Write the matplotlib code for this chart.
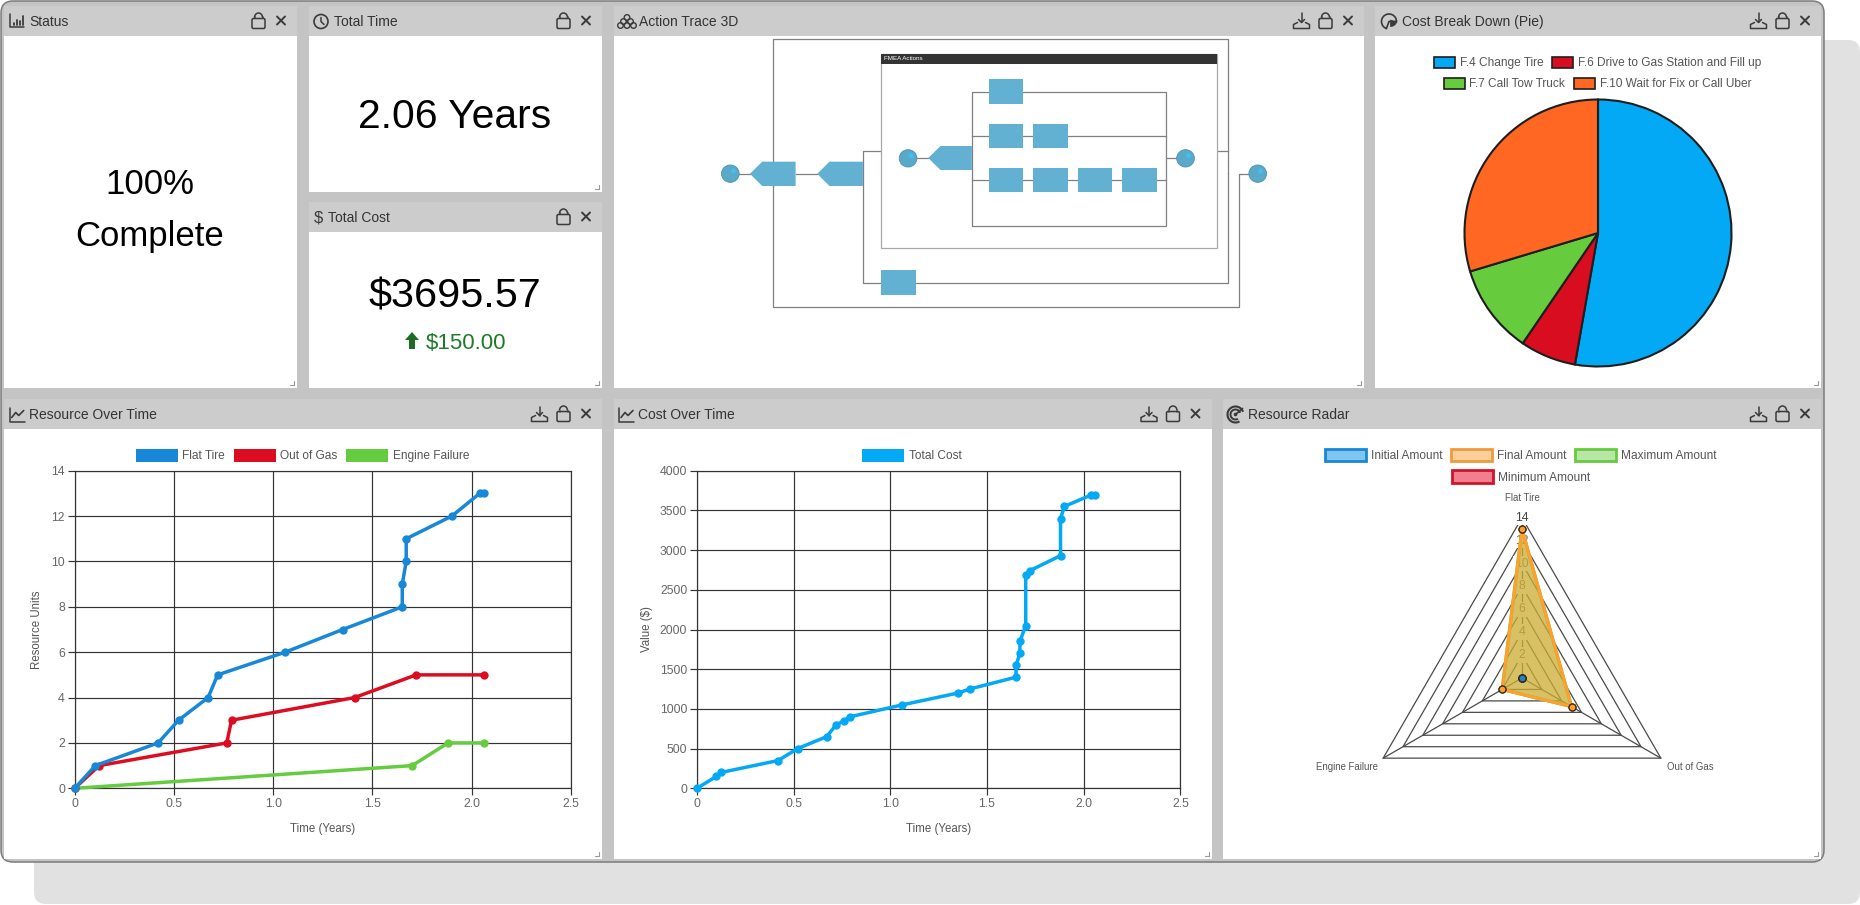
import matplotlib
matplotlib.use('Agg')
import matplotlib.pyplot as plt
import numpy as np
from matplotlib.patches import Arc, Circle, Ellipse, FancyBboxPatch, Patch, Polygon, Rectangle, Wedge

plt.rcParams['font.family'] = ['Liberation Sans', 'DejaVu Sans']

# Datos: recursos en el tiempo
flat_x = [0, 0.104, 0.42, 0.523, 0.672, 0.72, 1.06, 1.35, 1.65, 1.65, 1.67, 1.67, 1.90, 2.04, 2.06]
flat_y = [0, 1, 2, 3, 4, 5, 6, 7, 8, 9, 10, 11, 12, 13, 13]
gas_x = [0, 0.123, 0.766, 0.79, 1.41, 1.72, 2.06]
gas_y = [0, 1, 2, 3, 4, 5, 5]
engine_x = [0, 1.70, 1.88, 2.06]
engine_y = [0, 1, 2, 2]

# Datos: costo en el tiempo
cost_x = [0, 0.10, 0.125, 0.42, 0.52, 0.67, 0.72, 0.76, 0.79, 1.06, 1.35, 1.41, 1.65, 1.65,
          1.67, 1.67, 1.70, 1.70, 1.72, 1.88, 1.88, 1.90, 2.04, 2.06]
cost_y = [0, 150, 200, 350, 500, 650, 800, 850, 900, 1050, 1200, 1250, 1400, 1550,
          1700, 1850, 2050, 2685, 2740, 2930, 3395, 3550, 3695.57, 3695.57]

# Datos: pastel
pie_labels = ['F.4 Change Tire', 'F.6 Drive to Gas Station and Fill up', 'F.7 Call Tow Truck', 'F.10 Wait for Fix or Call Uber']
pie_values = [1950, 250, 400, 1095.57]
pie_colors = ['#03A9F4', '#D80D1F', '#66CC3D', '#FF6722']

# Datos: radar
radar_axes = ['Flat Tire', 'Out of Gas', 'Engine Failure']
initial_amount = [0, 0, 0]
final_amount = [13, 5, 2]
maximum_amount = [13, 5, 2]
minimum_amount = [0, 0, 0]
radar_ticks = [2, 4, 6, 8, 10, 12, 14]

x_ticks = [0, 0.5, 1.0, 1.5, 2.0, 2.5]
x_tick_labels = ['0', '0.5', '1.0', '1.5', '2.0', '2.5']
resource_ticks = [0, 2, 4, 6, 8, 10, 12, 14]
cost_ticks = [0, 500, 1000, 1500, 2000, 2500, 3000, 3500, 4000]

W, H = 1860, 905
fig = plt.figure(figsize=(W / 100, H / 100), dpi=100, facecolor='white')


def axes_px(x0, y0, x1, y1, **kw):
    return fig.add_axes([x0 / W, 1 - y1 / H, (x1 - x0) / W, (y1 - y0) / H], **kw)


# Fondo en pixeles: sombra, ventana y paneles
bg = axes_px(0, 0, W, H)
bg.set_xlim(0, W)
bg.set_ylim(H, 0)
bg.axis('off')
bg.add_patch(FancyBboxPatch((34, 40), 1826, 864, boxstyle='round,pad=0,rounding_size=12',
                            fc='#E1E1E1', ec='none'))
bg.add_patch(FancyBboxPatch((1, 1), 1823, 861, boxstyle='round,pad=0,rounding_size=12',
                            fc='#C4C4C4', ec='#7C7C7C', lw=1.1))

INK = '#3A3A3A'


def stroke(xs, ys, lw=1.1, color=INK):
    bg.plot(xs, ys, color=color, lw=lw, solid_capstyle='round', solid_joinstyle='round')


def draw_lock(x, y):
    bg.add_patch(FancyBboxPatch((x - 6.5, y - 3), 13, 10, boxstyle='round,pad=0,rounding_size=1.5', fc='none', ec=INK, lw=1.1))
    bg.add_patch(Arc((x, y - 4), 8, 9, theta1=180, theta2=360, ec=INK, lw=1.1))
    stroke([x - 4, x - 4], [y - 4, y - 3])
    stroke([x + 4, x + 4], [y - 4, y - 3])


def draw_cross(x, y):
    stroke([x - 4, x + 4], [y - 4, y + 4], lw=1.4)
    stroke([x - 4, x + 4], [y + 4, y - 4], lw=1.4)


def draw_download(x, y):
    stroke([x, x], [y - 8, y + 1])
    stroke([x - 3, x, x + 3], [y - 2, y + 1, y - 2])
    stroke([x - 4, x - 8, x - 8, x + 8, x + 8, x + 4], [y + 1, y + 3, y + 7, y + 7, y + 3, y + 1])


def draw_left_icon(kind, x, y):
    if kind == 'bars':
        stroke([x - 7, x - 7, x + 7], [y - 7, y + 6, y + 6])
        for dx, top in [(-3, 2), (0, -1), (3, 0), (6, -5)]:
            stroke([x + dx, x + dx], [y + 4, y + top], lw=1.3)
    elif kind == 'clock':
        bg.add_patch(Circle((x, y), 7, fc='none', ec=INK, lw=1.2))
        stroke([x, x, x + 3], [y - 4, y, y + 3])
    elif kind == 'dollar':
        bg.text(x, y, '$', fontsize=12, ha='center', va='center', color=INK)
    elif kind == 'nodes':
        for dx, dy in [(0, -4), (-3.5, 0), (3.5, 0), (-6.5, 4), (0, 4), (6.5, 4)]:
            bg.add_patch(Circle((x + dx, y + dy), 2.8, fc='none', ec=INK, lw=1))
    elif kind == 'pie':
        bg.add_patch(Wedge((x, y), 7.5, -250, 0, fc='none', ec=INK, lw=1.2))
        bg.add_patch(Wedge((x + 1.5, y - 1.5), 6.5, 20, 90, fc=INK, ec=INK, lw=0.5))
    elif kind == 'line':
        stroke([x - 7, x - 7, x + 8], [y - 7, y + 7, y + 7])
        stroke([x - 5, x - 1, x + 2, x + 7], [y + 3, y - 2, y + 1, y - 4], lw=1.2)
    elif kind == 'radar':
        for r, lw in [(8, 1.5), (5, 1.4)]:
            bg.add_patch(Arc((x, y), 2 * r, 2 * r, theta1=-300, theta2=-20, ec=INK, lw=lw))
        bg.add_patch(Circle((x, y), 1.8, fc=INK, ec='none'))
        stroke([x, x + 7], [y, y - 6], lw=1.3)


def panel(x0, y0, x1, y1, head_y, title, icon, icon_x, text_x, download=True):
    # encabezado, contenido blanco, iconos y agarre de esquina
    bg.add_patch(Rectangle((x0, y0), x1 - x0, head_y - y0, fc='#CCCCCC', ec='none'))
    bg.add_patch(Rectangle((x0, head_y), x1 - x0, y1 - head_y, fc='white', ec='none'))
    cy = (y0 + head_y) / 2 + 0.5
    bg.text(text_x, cy + 0.8, title, fontsize=10, color='#333333', ha='left', va='center')
    draw_left_icon(icon, icon_x, cy)
    draw_cross(x1 - 16, cy - 1)
    draw_lock(x1 - 38.5, cy)
    if download:
        draw_download(x1 - 62.5, cy)
    stroke([x1 - 3, x1 - 3, x1 - 7], [y1 - 7, y1 - 3, y1 - 3], lw=0.8, color='#999999')


panel(4, 6, 297, 388, 36, 'Status', 'bars', 16.5, 29, download=False)
panel(309, 6, 602, 192, 36, 'Total Time', 'clock', 321, 334, download=False)
panel(309, 202, 602, 388, 232, 'Total Cost', 'dollar', 318, 328, download=False)
panel(614, 6, 1364, 388, 36, 'Action Trace 3D', 'nodes', 627, 638.5)
panel(1375, 6, 1821, 388, 36, 'Cost Break Down (Pie)', 'pie', 1389, 1401.7)
panel(4, 399, 602, 859, 429, 'Resource Over Time', 'line', 16.7, 29)
panel(614, 399, 1211.5, 859, 429, 'Cost Over Time', 'line', 626, 638.4)
panel(1223, 399, 1821, 859, 429, 'Resource Radar', 'radar', 1235.5, 1247.8)

# Textos grandes
bg.text(150, 185, '100%', fontsize=25, ha='center', va='center', color='black')
bg.text(150, 236, 'Complete', fontsize=25, ha='center', va='center', color='black')
bg.text(455, 117, '2.06 Years', fontsize=29.4, ha='center', va='center', color='black')
bg.text(455, 296.5, '$3695.57', fontsize=29.8, ha='center', va='center', color='black')
bg.text(465.6, 343, '$150.00', fontsize=16, ha='center', va='center', color='#1E7B2A')
bg.add_patch(Polygon([(412, 332), (419, 340), (415, 340), (415, 349), (409, 349), (409, 340), (405, 340)],
                     fc='#1E6B26', ec='none'))

# Diagrama de la traza de acciones, en una cuadricula propia
dg = axes_px(610, 0, 1380, 400)
dg.patch.set_alpha(0)
dg.set_xlim(0, 1568)
dg.set_ylim(1200, 0)
dg.axis('off')
wires = [
    ([331, 331, 1258, 1258], [558, 118, 118, 520]),
    ([331, 331, 1280, 1280, 1302], [558, 921, 921, 521, 521]),
    ([1235, 1258], [452, 452]),
    ([551, 515, 515, 551], [452, 452, 848, 848]),
    ([623, 1258, 1258], [848, 848, 520]),
    ([262, 285], [521, 521]),
    ([378, 422], [521, 521]),
]
inner_wires = [
    ([625, 648], [475, 475]),
    ([771, 737, 737, 1133, 1133, 841], [275, 275, 677, 677, 275, 275]),
    ([737, 1133], [408, 408]),
    ([737, 1133], [541, 541]),
    ([1133, 1155], [475, 475]),
]
for xs, ys in wires:
    dg.plot(xs, ys, color='#808080', lw=0.9, zorder=1)
dg.add_patch(Rectangle((551, 161), 685, 584, fc='white', ec='#A8A8A8', lw=0.9, zorder=1.5))
for xs, ys in inner_wires:
    dg.plot(xs, ys, color='#808080', lw=0.9, zorder=2)
dg.add_patch(Rectangle((551, 161), 685, 32, fc='#333333', ec='none', zorder=2))
dg.text(557, 177, 'FMEA Actions', fontsize=4.5, color='white', va='center', zorder=3)
BOX = '#62B1D2'
for x0, y0, x1, y1 in [(771, 238, 841, 311), (771, 372, 841, 444), (862, 372, 932, 444), (771, 505, 841, 577),
                       (862, 505, 932, 577), (953, 505, 1022, 577), (1043, 505, 1113, 577), (551, 809, 623, 884)]:
    dg.add_patch(Rectangle((x0, y0), x1 - x0, y1 - y0, fc=BOX, ec='none', zorder=3))
for tip, mid, back, top, bot in [(285, 310, 378, 485, 558), (422, 447, 515, 485, 558), (648, 673, 737, 438, 510)]:
    dg.add_patch(Polygon([(tip, (top + bot) / 2), (mid, top), (back, top), (back, bot), (mid, bot)], fc=BOX, ec='none', zorder=3))
for cx, cy in [(245, 521), (607, 475), (1172, 475), (1319, 521)]:
    dg.add_patch(Ellipse((cx, cy), 36, 52, fc='#5AA9C9', ec='#4A93B0', lw=0.6, zorder=3))
    dg.add_patch(Ellipse((cx + 6, cy - 8), 10, 15, fc='#3FC0F5', ec='none', zorder=4))


def legend_row(ax, handles, center, swatch_px, height_px, gap_px):
    # una fila de leyenda centrada, como las de la figura original
    size = 8.6
    em = size * 100 / 72
    leg = ax.legend(handles=handles, loc='center', bbox_to_anchor=(center[0] / W, 1 - (center[1] + 1) / H),
                    bbox_transform=fig.transFigure, ncol=len(handles), frameon=False, fontsize=size,
                    handlelength=swatch_px / em, handleheight=height_px / em, handletextpad=0.4,
                    columnspacing=gap_px / em, borderpad=0, borderaxespad=0, labelcolor='#555555')
    ax.add_artist(leg)
    ax.legend_ = None


def line_axes(x0, x1, yticks, ylim, ylabel, ylabel_x):
    ax = axes_px(x0, 470.7, x1, 788.3)
    ax.patch.set_alpha(0)
    ax.set_xlim(0, 2.5)
    ax.set_ylim(*ylim)
    ax.set_xticks(x_ticks, x_tick_labels)
    ax.set_yticks(yticks)
    ax.grid(True, color='#333333', lw=0.85)
    ax.set_axisbelow(True)
    ax.tick_params(length=5, width=0.85, color='#333333', labelcolor='#666666', labelsize=8.8, pad=2)
    for s in ax.spines.values():
        s.set_color('#333333')
        s.set_linewidth(0.85)
    ax.set_xlabel('Time (Years)', fontsize=8.3, color='#555555', va='center')
    ax.xaxis.set_label_coords(0.5, -0.127)
    ax.set_ylabel(ylabel, fontsize=8.3, color='#555555', va='center')
    ax.yaxis.set_label_coords(ylabel_x, 0.5)
    return ax


# Recursos en el tiempo
ax1 = line_axes(74.7, 571, resource_ticks, (0, 14), 'Resource Units', -0.076)
for xs, ys, col in [(engine_x, engine_y, '#66CC3F'), (gas_x, gas_y, '#DC0D20'), (flat_x, flat_y, '#1787D8')]:
    ax1.plot(xs, ys, color=col, lw=2.5, marker='o', ms=5, clip_on=False, zorder=3)
legend_row(ax1, [Patch(fc='#1787D8', label='Flat Tire'), Patch(fc='#DC0D20', label='Out of Gas'),
                 Patch(fc='#66CC3F', label='Engine Failure')], (302.5, 454.7), 42, 15, 8.5)

# Costo en el tiempo
ax2 = line_axes(697, 1180.4, cost_ticks, (0, 4000), 'Value ($)', -0.104)
ax2.plot(cost_x, cost_y, color='#03A9F4', lw=2.5, marker='o', ms=5, clip_on=False, zorder=3)
legend_row(ax2, [Patch(fc='#03A9F4', label='Total Cost')], (912, 454.7), 42, 15, 8.5)

# Pastel
ax3 = axes_px(1598 - 133.5, 233 - 133.5, 1598 + 133.5, 233 + 133.5)
ax3.pie(pie_values, colors=pie_colors, startangle=90, counterclock=False, radius=1,
        wedgeprops={'edgecolor': '#1E1E1E', 'linewidth': 1.5})
ax3.set_xlim(-1, 1)
ax3.set_ylim(-1, 1)
for w in ax3.patches:
    w.set_clip_on(False)
pie_handles = [Patch(fc=c, ec='#1E1E1E', lw=1.2, label=l) for c, l in zip(pie_colors, pie_labels)]
legend_row(ax3, pie_handles[:2], (1597.5, 62), 21, 13, 9)
legend_row(ax3, pie_handles[2:], (1597.5, 83), 21, 13, 9)

# Radar
R = 160.3
ax4 = axes_px(1522 - R, 678 - R, 1522 + R, 678 + R, projection='polar')
ax4.patch.set_alpha(0)
ax4.set_theta_zero_location('N')
ax4.set_theta_direction(-1)
theta = np.deg2rad([0, 120, 240])
closed = np.append(theta, theta[0])
for t in radar_ticks:
    ax4.plot(closed, [t] * 4, color='#4A4A4A', lw=0.9, clip_on=False, zorder=1)
for a in theta:
    ax4.plot([a, a], [0, 14], color='#4A4A4A', lw=0.9, clip_on=False, zorder=1)
for t in radar_ticks:
    ax4.text(0, t, str(t), fontsize=8.8, color='#444444' if t == 14 else '#666666', ha='center', va='center', zorder=2,
             bbox={'fc': 'white', 'ec': 'none', 'pad': 1.2}, clip_on=False)
series = [(minimum_amount, '#D0142C'), (maximum_amount, '#66CC3F'), (final_amount, '#FF9F2E'), (initial_amount, '#1787D8')]
for values, col in series:
    vals = list(values) + [values[0]]
    ax4.fill(closed, vals, color=col, alpha=0.5, lw=0, zorder=3)
    ax4.plot(closed, vals, color=col, lw=2.3, clip_on=False, zorder=4)
    ax4.plot(theta, values, ls='none', marker='o', ms=5, mfc=col, mec='#3A2A10', mew=0.9, clip_on=False, zorder=5)
for a, label, off in zip(theta, radar_axes, [(0, 20), (29, -9), (-36, -9)]):
    ax4.annotate(label, xy=(a, 14), xytext=off, textcoords='offset pixels', fontsize=6.9, color='#555555',
                 ha='center', va='center', annotation_clip=False)
ax4.set_rlim(0, 14)
ax4.axis('off')
radar_handles = [
    Patch(fc='#80C4F0', ec='#1787D8', lw=2, label='Initial Amount'),
    Patch(fc='#FFCF9B', ec='#F09A3C', lw=2, label='Final Amount'),
    Patch(fc='#B8E6A6', ec='#66CC3F', lw=2, label='Maximum Amount'),
    Patch(fc='#F0808F', ec='#D0142C', lw=2, label='Minimum Amount'),
]
legend_row(ax4, radar_handles[:3], (1521, 454.7), 41, 14, 8.6)
legend_row(ax4, radar_handles[3:], (1521, 476), 41, 14, 8.6)

fig.savefig('out.png', dpi=100, facecolor='white')
